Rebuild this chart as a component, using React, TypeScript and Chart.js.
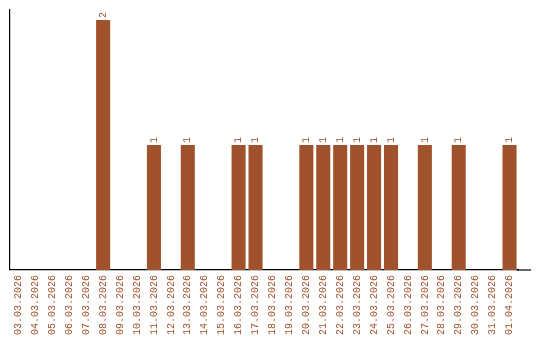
import React, { useEffect, useRef } from "react";
import { Chart, registerables } from "chart.js";

Chart.register(...registerables);

const categories: string[] = [
  "03.03.2026", "04.03.2026", "05.03.2026", "06.03.2026", "07.03.2026",
  "08.03.2026", "09.03.2026", "10.03.2026", "11.03.2026", "12.03.2026",
  "13.03.2026", "14.03.2026", "15.03.2026", "16.03.2026", "17.03.2026",
  "18.03.2026", "19.03.2026", "20.03.2026", "21.03.2026", "22.03.2026",
  "23.03.2026", "24.03.2026", "25.03.2026", "26.03.2026", "27.03.2026",
  "28.03.2026", "29.03.2026", "30.03.2026", "31.03.2026", "01.04.2026",
];

const counts: number[] = [
  0, 0, 0, 0, 0,
  2, 0, 0, 1, 0,
  1, 0, 0, 1, 1,
  0, 0, 1, 1, 1,
  1, 1, 1, 0, 1,
  0, 1, 0, 0, 1,
];

const BROWN = "#A0522D";
const FONT = "Liberation Mono";

const valueLabels = {
  id: "valueLabels",
  afterDatasetsDraw(chart: any) {
    const ctx = chart.ctx;
    const meta = chart.getDatasetMeta(0);
    ctx.save();
    ctx.fillStyle = BROWN;
    ctx.font = `10px "${FONT}"`;
    ctx.textAlign = "left";
    ctx.textBaseline = "middle";
    meta.data.forEach((bar: any, i: number) => {
      const v = counts[i];
      if (!v) return;
      ctx.save();
      ctx.translate(bar.x, bar.y - 2);
      ctx.rotate(-Math.PI / 2);
      ctx.fillText(String(v), 0, 0);
      ctx.restore();
    });
    ctx.restore();
  },
};

const axisExtension = {
  id: "axisExtension",
  afterDraw(chart: any) {
    const { ctx, chartArea } = chart;
    ctx.save();
    ctx.strokeStyle = "#000";
    ctx.lineWidth = 1.2;
    ctx.beginPath();
    ctx.moveTo(chartArea.right - 1, chartArea.bottom);
    ctx.lineTo(chartArea.right + 13, chartArea.bottom);
    ctx.stroke();
    ctx.restore();
  },
};

export default function App() {
  const ref = useRef<HTMLCanvasElement | null>(null);
  useEffect(() => {
    if (!ref.current) return;
    const chart = new Chart(ref.current, {
      type: "bar",
      data: {
        labels: categories,
        datasets: [
          {
            data: counts,
            backgroundColor: BROWN,
            borderWidth: 0,
            barPercentage: 0.83,
            categoryPercentage: 1,
          },
        ],
      },
      options: {
        responsive: false,
        animation: false,
        layout: { padding: { left: 10, right: 22, top: 10, bottom: 0 } },
        plugins: {
          legend: { display: false },
          tooltip: { enabled: false },
          title: { display: false },
        },
        scales: {
          x: {
            grid: { display: false, drawTicks: false },
            border: { display: true, color: "#000", width: 1.2 },
            ticks: {
              color: BROWN,
              font: { family: FONT, size: 10 },
              minRotation: 90,
              maxRotation: 90,
              autoSkip: false,
              padding: 5,
            },
          },
          y: {
            min: 0,
            max: 2.08,
            grid: { display: false, drawTicks: false },
            border: { display: true, color: "#000", width: 1.2 },
            ticks: { display: false },
          },
        },
      },
      plugins: [valueLabels, axisExtension],
    });
    return () => chart.destroy();
  }, []);
  return (
    <div style={{ position: "absolute", left: 0, top: 0, width: 540, height: 340 }}>
      <canvas ref={ref} width={540} height={340} />
    </div>
  );
}
